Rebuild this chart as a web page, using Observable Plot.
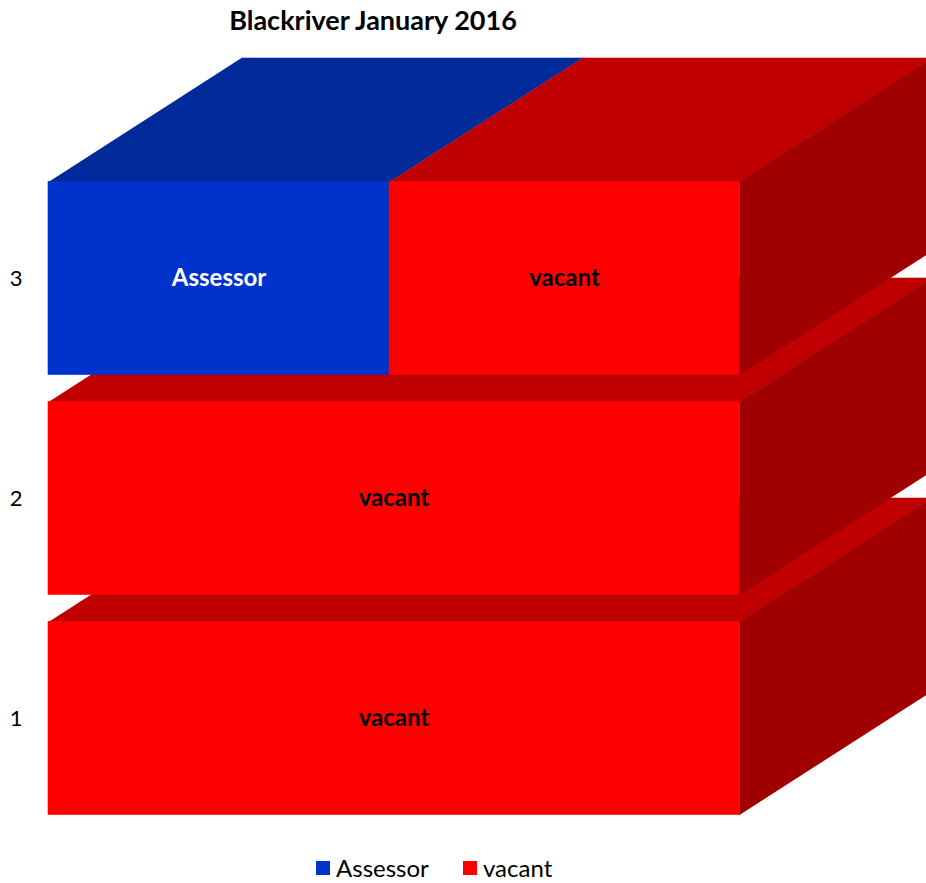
<!DOCTYPE html>
<html>
<head>
<meta charset="utf-8">
<script src="https://cdn.jsdelivr.net/npm/d3@7"></script>
<script src="https://cdn.jsdelivr.net/npm/@observablehq/plot@0.6"></script>
<style>
  html, body { margin: 0; padding: 0; background: #fff; overflow: hidden; width: 926px; height: 883px; }
  #title { height: 44px; width: 746px; text-align: center; font-family: Lato, sans-serif; font-weight: bold; font-size: 27px; line-height: 40px; color: #000; }
  #chart svg { display: block; }
  #legend { position: relative; height: 39px; font-family: Lato, sans-serif; font-size: 24px; color: #000; }
  .item { position: absolute; top: 9px; display: flex; align-items: center; height: 29px; line-height: 29px; }
  .sw { width: 14px; height: 14px; margin-right: 6px; }
</style>
</head>
<body>
<div id="title">Blackriver January 2016</div>
<div id="chart"></div>
<div id="legend"></div>
<script>
// ---- data ----
const floors = [1, 2, 3];
const seriesNames = ["Assessor", "vacant"];
const assessorValues = [0, 0, 0.987];
const vacantValues = [2, 2, 1.013];

// ---- styles ----
const frontColors = {Assessor: "#0033CC", vacant: "#FF0000"};
const topColors = {Assessor: "#002A99", vacant: "#C00000"};
const sideColors = {Assessor: "#002080", vacant: "#A00000"};
const labelColors = {Assessor: "#ffffff", vacant: "#000000"};
const halfHeight = 0.4386; // half bar thickness in floor units
const depthX = 0.5586;     // 3D depth offset (x units)
const depthY = 0.5636;     // 3D depth offset (floor units)

const valuesBySeries = {Assessor: assessorValues, vacant: vacantValues};

// stacked segments
const segs = [];
floors.forEach((f, i) => {
  let x0 = 0;
  seriesNames.forEach(s => {
    const v = valuesBySeries[s][i];
    if (v > 0) { segs.push({floor: f, series: s, x1: x0, x2: x0 + v}); x0 += v; }
  });
});

// 3D faces as polygons in data space
const polys = [];
floors.forEach(f => {
  const fs = segs.filter(d => d.floor === f);
  const yT = f + halfHeight, yB = f - halfHeight;
  fs.forEach(d => {
    const id = `${f}-${d.series}-top`;
    const c = topColors[d.series];
    [[d.x1, yT], [d.x2, yT], [d.x2 + depthX, yT + depthY], [d.x1 + depthX, yT + depthY]]
      .forEach(([x, y]) => polys.push({floor: f, id, x, y, color: c}));
  });
  const last = fs[fs.length - 1];
  const id = `${f}-side`;
  const c = sideColors[last.series];
  [[last.x2, yB], [last.x2, yT], [last.x2 + depthX, yT + depthY], [last.x2 + depthX, yB + depthY]]
    .forEach(([x, y]) => polys.push({floor: f, id, x, y, color: c}));
});

const marks = floors.flatMap(f => [
  Plot.line(polys.filter(p => p.floor === f), {x: "x", y: "y", z: "id", fill: "color", stroke: "color", strokeWidth: 0.6}),
  Plot.rect(segs.filter(d => d.floor === f), {
    x1: "x1", x2: "x2",
    y1: d => d.floor - halfHeight, y2: d => d.floor + halfHeight,
    fill: d => frontColors[d.series], stroke: d => frontColors[d.series], strokeWidth: 0.6
  })
]);

marks.push(
  Plot.text(segs, {
    x: d => (d.x1 + d.x2) / 2, y: "floor", text: "series",
    fill: d => labelColors[d.series], fontWeight: "bold", fontSize: 24
  }),
  Plot.text(floors, {
    y: d => d, text: d => String(d), frameAnchor: "left", dx: -26,
    textAnchor: "end", fontSize: 22, fill: "#000"
  })
);

const chart = Plot.plot({
  width: 926,
  height: 800,
  marginLeft: 48,
  marginRight: 0,
  marginTop: 0,
  marginBottom: 0,
  style: {fontFamily: "Lato, sans-serif", background: "transparent", overflow: "hidden"},
  x: {domain: [0, 2], range: [48, 739], axis: null},
  y: {domain: [1, 3], range: [674, 234], axis: null},
  color: {type: "identity"},
  marks
});
document.getElementById("chart").appendChild(chart);

// legend
const legend = document.getElementById("legend");
const legendPos = {Assessor: 316, vacant: 463};
seriesNames.forEach(s => {
  const it = document.createElement("div");
  it.className = "item";
  it.style.left = legendPos[s] + "px";
  const sw = document.createElement("span");
  sw.className = "sw";
  sw.style.background = frontColors[s];
  const tx = document.createElement("span");
  tx.textContent = s;
  it.appendChild(sw); it.appendChild(tx);
  legend.appendChild(it);
});
</script>
</body>
</html>
